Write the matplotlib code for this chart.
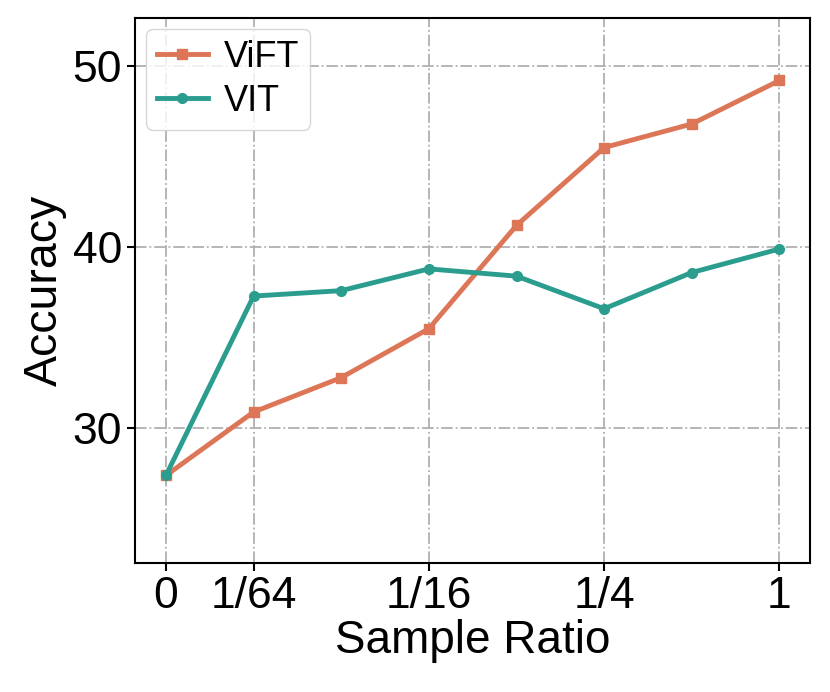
import numpy as np
import matplotlib
matplotlib.use("Agg")
import matplotlib.pyplot as plt

plt.rcParams['font.family'] = ['Liberation Sans', 'DejaVu Sans']

tick_labels = ['0', '1/64', '1/16', '1/4', '1']
tick_pos = [0, 1, 3, 5, 7]
vift = [27.4, 30.9, 32.8, 35.5, 41.2, 45.5, 46.8, 49.2]
vit = [27.4, 37.3, 37.6, 38.8, 38.4, 36.6, 38.6, 39.9]
x = np.arange(len(vift))

fig = plt.figure(figsize=(8.3, 6.92), dpi=100)
ax = fig.add_axes([0.163, 0.186, 0.813, 0.788])

ax.plot(x, vift, color='#dc7657', marker='s', markersize=7, linewidth=3.5, label='ViFT')
ax.plot(x, vit, color='#2a9d8f', marker='o', markersize=7, linewidth=3.5, label='VIT')

ax.set_xticks(tick_pos)
ax.set_xticklabels(tick_labels)
ax.set_yticks([30, 40, 50])
ax.set_ylim(22.55, 52.65)
ax.tick_params(labelsize=32, width=1.5, length=6)
for s in ax.spines.values():
    s.set_linewidth(1.5)
ax.grid(True, linestyle='-.', color='#b0b0b0', linewidth=1.3)
ax.set_xlabel('Sample Ratio', fontsize=33, labelpad=1)
ax.set_ylabel('Accuracy', fontsize=33.5)
ax.legend(fontsize=26, loc='upper left', handlelength=1.4, borderpad=0.3,
          labelspacing=0.25, handletextpad=0.45, borderaxespad=0.3)

fig.savefig('out.png', dpi=100)
